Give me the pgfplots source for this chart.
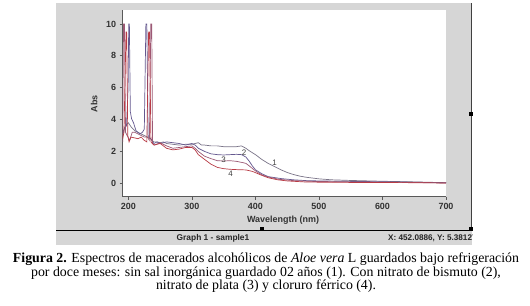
\documentclass[border=0pt]{standalone}
\usepackage{pgfplots}
\pgfplotsset{compat=1.18}
\usepackage{fontspec}
\setmainfont{Liberation Serif}
\setsansfont{Liberation Sans}
\definecolor{panel}{HTML}{D6D6D6}
\definecolor{cone}{HTML}{7A7488}
\definecolor{ctwo}{HTML}{65588F}
\definecolor{cthree}{HTML}{9C5A76}
\definecolor{cfour}{HTML}{B83A44}
\begin{document}
\begin{tikzpicture}
\useasboundingbox (0,0) rectangle (530bp,306bp);
% window panel
\fill[panel] (56bp,76bp) rectangle (472bp,302.7bp);
\fill[panel] (56bp,61bp) rectangle (472bp,75.3bp);
\draw[black, line width=1.6bp] (56bp,75.6bp) -- (472bp,75.6bp);
\draw[black!75, line width=1bp] (471.5bp,302.7bp) -- (471.5bp,76bp);
\fill[black] (468.5bp,190bp) rectangle (472.5bp,194bp);
\fill[black] (468.5bp,75bp) rectangle (472.5bp,79bp);
\fill[black] (260bp,75bp) rectangle (264bp,79bp);
\node[font=\sffamily\bfseries\fontsize{8.4}{9}\selectfont, text=black!85] at (213bp,67.7bp) {Graph 1 - sample1};
\begin{scope}
\clip (56bp,60bp) rectangle (472bp,76bp);
\node[font=\sffamily\bfseries\fontsize{8.2}{9}\selectfont, text=black!85, anchor=west, inner sep=0pt] at (388bp,67.7bp) {X: 452.0886, Y: 5.381276};
\end{scope}
\begin{axis}[
  at={(122.7bp,109.3bp)}, anchor=south west,
  scale only axis, width=323.3bp, height=186.7bp,
  xmin=191, xmax=700, ymin=-0.84, ymax=10.88,
  xtick={200,300,400,500,600,700}, ytick={0,2,4,6,8,10},
  axis x line*=bottom, axis y line*=left,
  axis line style={-, draw=black!65, line width=0.9bp},
  tick align=outside, major tick length=3bp,
  tick style={draw=black!65, line width=0.8bp},
  axis background/.style={fill=white},
  ticklabel style={font=\sffamily\bfseries\fontsize{9}{10}\selectfont, text=black!80},
  /pgf/number format/assume math mode=true,
  xlabel={Wavelength (nm)}, ylabel={Abs},
  label style={font=\sffamily\bfseries\fontsize{9}{10}\selectfont, text=black!80},
  xlabel style={at={(axis description cs:0.496,-0.125)}, anchor=center},
  ylabel style={at={(axis description cs:-0.088,0.497)}, anchor=center},
  every axis plot/.append style={line width=0.7bp},
]
% curve 1
\addplot[cone] coordinates {
(191,3.0)(195,3.6)(200,3.8)(205,3.5)(210,3.3)(215,3.2)(220,3.1)(225,3.0)(230,2.9)(235,2.8)
(240,2.6)(245,2.6)(250,2.55)(255,2.6)(260,2.5)(270,2.45)(280,2.4)(290,2.45)(300,2.45)(305,2.5)
(310,2.55)(315,2.4)(320,2.4)(330,2.35)(340,2.35)(350,2.3)(360,2.3)(370,2.3)(378,2.35)(385,2.2)
(390,2.05)(400,1.8)(410,1.5)(420,1.25)(430,1.05)(440,0.85)(450,0.68)(460,0.55)(470,0.45)(480,0.38)
(500,0.28)(520,0.22)(550,0.18)(600,0.13)(650,0.09)(700,0.04)};
% curve 2
\addplot[ctwo] coordinates {
(191,3.15)(194,3.5)(197,3.6)(199.5,6)(200.5,10)(201.5,10)(203,4.5)(205,4.05)(208,3.8)(212,3.3)
(218,3.1)(222,3.2)(225,3.4)(227.5,10)(229,10)(231,3.0)(235,2.8)(240,2.5)(245,2.6)(250,2.5)
(260,2.6)(270,2.55)(280,2.5)(290,2.4)(300,2.5)(305,2.4)(310,2.2)(320,2.0)(330,1.85)(340,1.8)
(350,1.78)(360,1.8)(370,1.82)(378,1.8)(385,1.65)(390,1.4)(395,1.1)(400,0.85)(410,0.6)(420,0.42)
(440,0.3)(460,0.22)(480,0.17)(500,0.15)(550,0.12)(600,0.1)(650,0.07)(700,0.03)};
% curve 3
\addplot[cthree] coordinates {
(191,2.6)(192.3,10)(193.7,10)(195.5,3.2)(198,3.0)(202,2.7)(206,3.2)(210,3.2)(215,3.1)(220,3.0)
(225,2.9)(230,2.9)(233,2.7)(235.3,10)(236.7,10)(238,2.5)(241,2.4)(250,2.55)(260,2.35)(270,2.2)(280,2.25)
(290,2.3)(300,2.35)(305,2.2)(310,2.0)(320,1.7)(330,1.55)(340,1.42)(350,1.4)(360,1.42)(370,1.38)
(380,1.3)(385,1.25)(390,1.1)(398,0.84)(405,0.65)(411,0.52)(420,0.4)(437,0.25)(460,0.17)(490,0.12)
(550,0.09)(600,0.07)(650,0.05)(700,0.02)};
% curve 4
\addplot[cfour] coordinates {
(191,2.8)(193,3.2)(196.2,9.5)(197.2,9.5)(199,3.0)(201,2.6)(204,2.9)(210,2.85)(215,2.8)(220,2.9)(225,2.7)
(229,2.6)(231.8,9.5)(233.2,9.5)(235.5,2.6)(240,2.4)(250,2.5)(260,2.2)(270,2.1)(280,2.15)(290,2.25)
(300,2.25)(305,2.1)(310,1.8)(320,1.5)(330,1.2)(340,1.0)(350,0.92)(360,0.88)(370,0.86)(385,0.84)
(395,0.75)(400,0.67)(410,0.5)(420,0.35)(435,0.22)(450,0.15)(480,0.08)(530,0.06)(600,0.05)
(650,0.04)(700,0.02)};
\node[font=\sffamily\fontsize{8}{9}\selectfont, text=black!75] at (axis cs:430,1.26) {1};
\node[font=\sffamily\fontsize{8}{9}\selectfont, text=black!75] at (axis cs:382,1.9) {2};
\node[font=\sffamily\fontsize{8}{9}\selectfont, text=black!75] at (axis cs:350,1.5) {3};
\node[font=\sffamily\fontsize{8}{9}\selectfont, text=black!75] at (axis cs:361,0.57) {4};
\end{axis}
\node[align=center, font=\fontsize{13.9}{13.5}\selectfont, inner sep=0pt] at (266bp,33.3bp) {\textbf{Figura 2.} Espectros de macerados alcohólicos de \textit{Aloe vera} L guardados bajo refrigeración\\ por doce meses: sin sal inorgánica guardado 02 años (1). Con nitrato de bismuto (2),\\ nitrato de plata (3) y cloruro férrico (4).};
\end{tikzpicture}
\end{document}
